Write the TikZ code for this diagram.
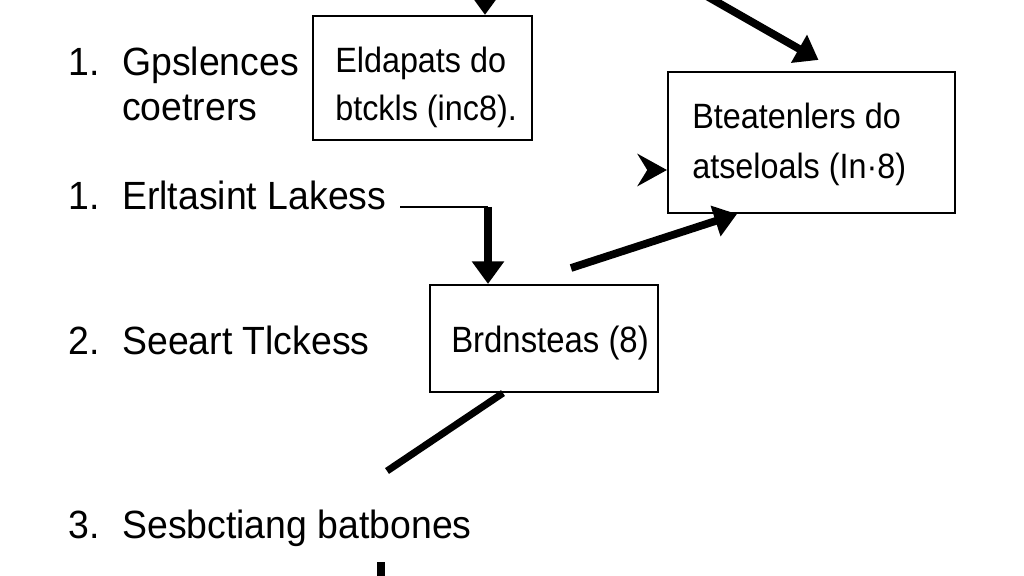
\documentclass[tikz,border=0pt]{standalone}
\usepackage{fontspec}
\setmainfont{Liberation Sans}
\newfontfamily\labelsans[FakeStretch=0.95]{Liberation Sans}
\newfontfamily\narrowsans[FakeStretch=0.92]{Liberation Sans}
\newfontfamily\narrowersans[FakeStretch=0.9]{Liberation Sans}
\usetikzlibrary{arrows.meta,calc}
\newdimen\pxu \pxu=0.025cm
\begin{document}
\begin{tikzpicture}[x=0.025cm,y=-0.025cm,
  lbl/.style={anchor=base west,inner sep=0pt,font=\labelsans\fontsize{28}{32}\selectfont},
  boxtxt/.style={anchor=base west,inner sep=0pt,font=\narrowsans\fontsize{25}{30}\selectfont},
  boxtxtb/.style={anchor=base west,inner sep=0pt,font=\narrowersans\fontsize{26}{30}\selectfont},
  boxnode/.style={draw,line width=1.5pt,inner sep=0pt},
  heavyarrow/.style={line width=5.5pt,-{Triangle[length=16pt,width=22pt]}},
  notcharrow/.style={line width=3pt,-{Stealth[length=21pt,width=23pt,inset=7pt]}},
  thinline/.style={line width=1.5pt}]
\useasboundingbox (0,0) rectangle (1024,576);
\fill[white] (0,0) rectangle (1024,576);

% boxes
\node[boxnode,minimum width=219\pxu,minimum height=124\pxu] (b1) at (422.5,78) {};
\node[boxnode,minimum width=287\pxu,minimum height=141\pxu] (b2) at (811.5,142.5) {};
\node[boxnode,minimum width=228\pxu,minimum height=107\pxu] (b3) at (544,338.5) {};

% box texts
\node[boxtxt] (t1a) at (335,73) {Eldapats do};
\node[boxtxt] (t1b) at (335,121) {btckls (inc8).};
\node[boxtxt] (t2a) at (692,129) {Bteatenlers do};
\node[boxtxt] (t2b) at (692,179) {atseloals (In·8)};
\node[boxtxtb] (t3) at (451,353) {Brdnsteas (8)};

% left labels
\node[lbl] (n1) at (68,76) {1.};
\node[lbl] (l1a) at (122,76) {Gpslences};
\node[lbl] (l1b) at (122,121) {coetrers};
\node[lbl] (n2) at (68,210) {1.};
\node[lbl] (l2) at (122,210) {Erltasint Lakess};
\node[lbl] (n3) at (68,354) {2.};
\node[lbl] (l3) at (122,354) {Seeart Tlckess};
\node[lbl] (n4) at (68,538) {3.};
\node[lbl] (l4) at (122,538) {Sesbctiang batbones};

% connectors
\coordinate (c1) at (485,-20);
\draw[heavyarrow] (c1) -- (c1 |- b1.north);

\coordinate (c2) at (696,-10);
\draw[heavyarrow] (c2) -- ($(b2.north)+(7,-11)$);

\coordinate (c3) at (652,170);
\draw[notcharrow] (c3) -- (c3 -| b2.west);

\coordinate (c4) at (400,207);
\coordinate (c4b) at (488,207);
\draw[thinline] (c4) -- (c4b);
\draw[heavyarrow] (c4b) -- (c4b |- b3.north);

\coordinate (c5) at (571,268);
\draw[heavyarrow] (c5) -- ($(b2.south west)+(70,0)$);

\coordinate (c6) at (387,471);
\draw[line width=5pt] ($(b3.south)+(-41,0)$) -- (c6);

\coordinate (c7) at (381,562);
\draw[line width=6pt] (c7) -- (381,585);
\end{tikzpicture}
\end{document}
